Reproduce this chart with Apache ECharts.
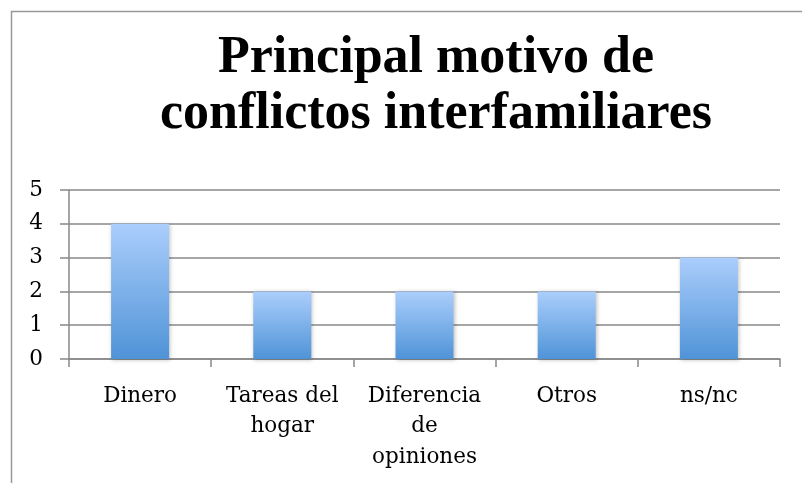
<!DOCTYPE html>
<html><head><meta charset="utf-8">
<script src="https://cdn.jsdelivr.net/npm/echarts@6/dist/echarts.min.js"></script>
<style>html,body{margin:0;padding:0;background:#fff}#c{width:802px;height:483px}</style>
</head><body><div id="c"></div>
<script>
const titleText = "Principal motivo de\nconflictos interfamiliares";
const categories = ["Dinero", "Tareas del\nhogar", "Diferencia\nde\nopiniones", "Otros", "ns/nc"];
const values = [4, 2, 2, 2, 3];
const yTicks = [0, 1, 2, 3, 4, 5];

const chart = echarts.init(document.getElementById('c'), null, {renderer: 'canvas'});
chart.setOption({
  animation: false,
  graphic: [{
    type: 'rect', shape: {x: 11.5, y: 11.5, width: 1000, height: 1000},
    style: {fill: 'none', stroke: '#999', lineWidth: 1.5}, silent: true
  }, {
    type: 'text', x: 436, y: 31, silent: true,
    style: {text: titleText, textAlign: 'center', textVerticalAlign: 'top',
      fontFamily: 'Liberation Serif', fontWeight: 'bold', fontSize: 52, lineHeight: 56, fill: '#000'}
  }],
  grid: {left: 69, right: 22, top: 190, bottom: 124, containLabel: false},
  xAxis: {
    type: 'category', data: categories,
    axisLine: {lineStyle: {color: '#888', width: 1.5}},
    axisTick: {show: true, length: 8, lineStyle: {color: '#888', width: 1.5}},
    axisLabel: {fontFamily: 'DejaVu Serif', fontSize: 21.5, color: '#000', lineHeight: 30.5, margin: 22, interval: 0}
  },
  yAxis: {
    type: 'value', min: 0, max: 5, interval: 1,
    axisLine: {show: true, lineStyle: {color: '#888', width: 1.5}},
    axisTick: {show: true, length: 9, lineStyle: {color: '#888', width: 1.5}},
    splitLine: {lineStyle: {color: '#888', width: 1.5}},
    axisLabel: {fontFamily: 'DejaVu Serif', fontSize: 21.5, color: '#000', margin: 26,
      formatter: v => yTicks.includes(v) ? String(v) : ''}
  },
  series: [{
    type: 'bar', data: values, barWidth: 58,
    itemStyle: {
      color: new echarts.graphic.LinearGradient(0, 0, 0, 1, [
        {offset: 0, color: '#abcefc'}, {offset: 1, color: '#4f93d7'}
      ]),
      shadowColor: 'rgba(0,0,0,0.25)', shadowBlur: 4, shadowOffsetX: 1, shadowOffsetY: 1
    }
  }]
});
</script></body></html>
